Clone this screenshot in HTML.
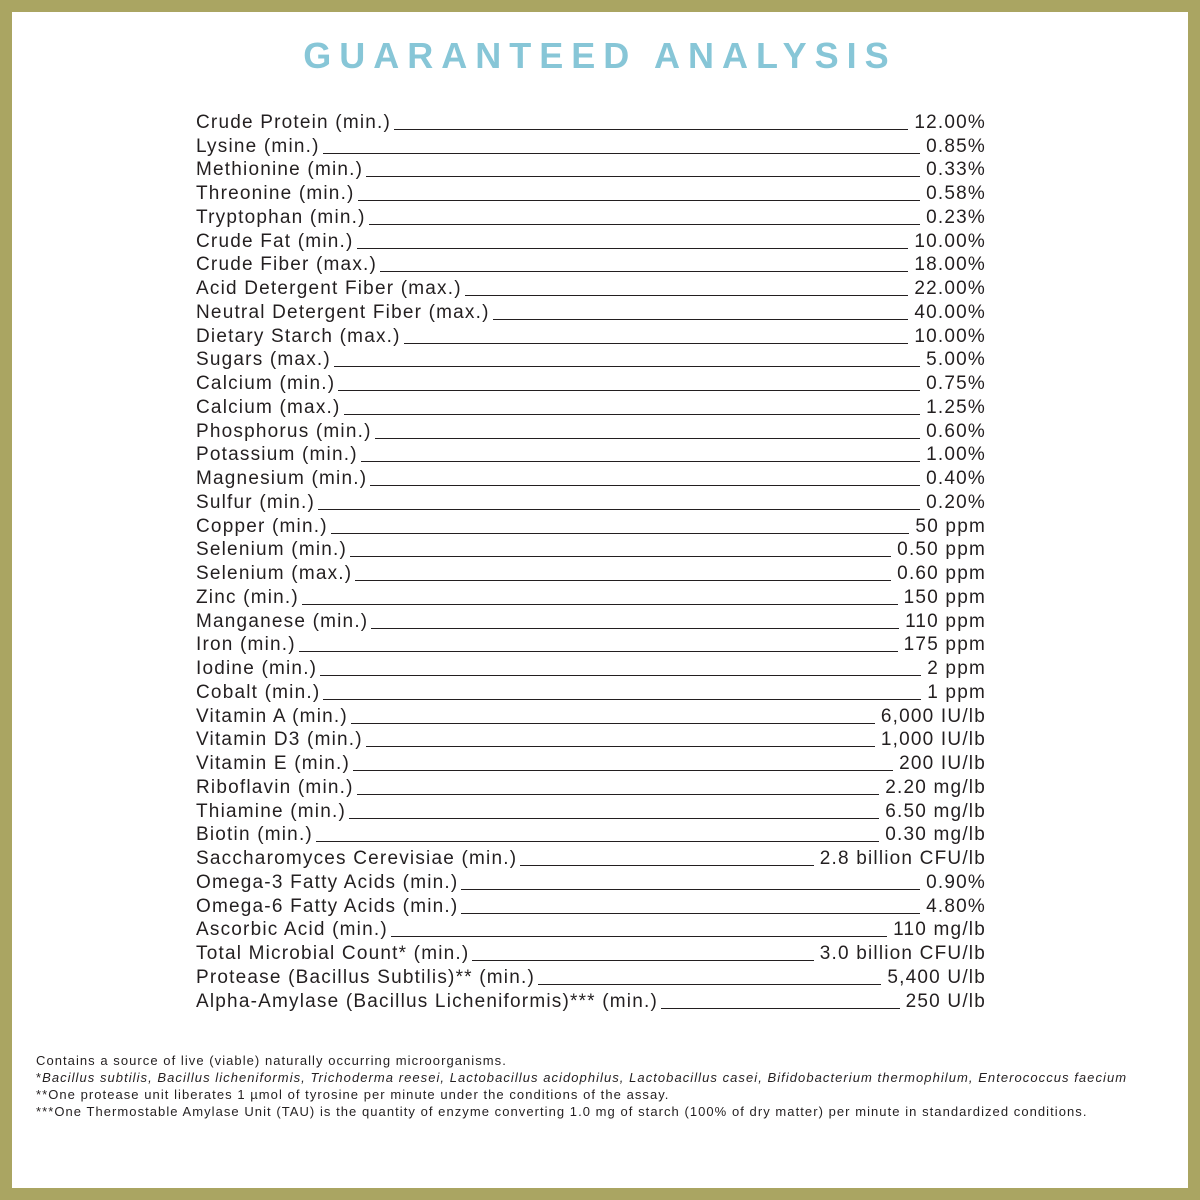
<!DOCTYPE html>
<html><head><meta charset="utf-8"><style>
html,body{margin:0;padding:0}
body{width:1200px;height:1200px;background:#aaa562;position:relative;overflow:hidden;font-family:"Liberation Sans",sans-serif;color:#231f20}
.card{position:absolute;left:12px;top:12px;width:1176px;height:1176px;background:#fff}
.title{position:absolute;left:0;width:1200px;top:35px;text-align:center;font-weight:bold;font-size:36px;letter-spacing:8px;color:#87c6d7}
.rows{position:absolute;left:196px;top:111px;width:790px}
.r{display:flex;height:23.76px;line-height:23.76px;font-size:19px;letter-spacing:1.2px;align-items:flex-end}
.r span.l{white-space:nowrap}
.r i{flex:1;border-bottom:1.5px solid #231f20;margin:0 6px 5px 3px;height:0}
.r span.v{white-space:nowrap}
.fn{position:absolute;left:36px;top:1052px;font-size:13px;letter-spacing:1.05px;line-height:17px;color:#231f20;white-space:nowrap}
</style></head><body>
<div class="card"></div>
<div class="title">GUARANTEED ANALYSIS</div>
<div class="rows">
<div class="r"><span class="l">Crude Protein (min.)</span><i></i><span class="v">12.00%</span></div>
<div class="r"><span class="l">Lysine (min.)</span><i></i><span class="v">0.85%</span></div>
<div class="r"><span class="l">Methionine (min.)</span><i></i><span class="v">0.33%</span></div>
<div class="r"><span class="l">Threonine (min.)</span><i></i><span class="v">0.58%</span></div>
<div class="r"><span class="l">Tryptophan (min.)</span><i></i><span class="v">0.23%</span></div>
<div class="r"><span class="l">Crude Fat (min.)</span><i></i><span class="v">10.00%</span></div>
<div class="r"><span class="l">Crude Fiber (max.)</span><i></i><span class="v">18.00%</span></div>
<div class="r"><span class="l">Acid Detergent Fiber (max.)</span><i></i><span class="v">22.00%</span></div>
<div class="r"><span class="l">Neutral Detergent Fiber (max.)</span><i></i><span class="v">40.00%</span></div>
<div class="r"><span class="l">Dietary Starch (max.)</span><i></i><span class="v">10.00%</span></div>
<div class="r"><span class="l">Sugars (max.)</span><i></i><span class="v">5.00%</span></div>
<div class="r"><span class="l">Calcium (min.)</span><i></i><span class="v">0.75%</span></div>
<div class="r"><span class="l">Calcium (max.)</span><i></i><span class="v">1.25%</span></div>
<div class="r"><span class="l">Phosphorus (min.)</span><i></i><span class="v">0.60%</span></div>
<div class="r"><span class="l">Potassium (min.)</span><i></i><span class="v">1.00%</span></div>
<div class="r"><span class="l">Magnesium (min.)</span><i></i><span class="v">0.40%</span></div>
<div class="r"><span class="l">Sulfur (min.)</span><i></i><span class="v">0.20%</span></div>
<div class="r"><span class="l">Copper (min.)</span><i></i><span class="v">50 ppm</span></div>
<div class="r"><span class="l">Selenium (min.)</span><i></i><span class="v">0.50 ppm</span></div>
<div class="r"><span class="l">Selenium (max.)</span><i></i><span class="v">0.60 ppm</span></div>
<div class="r"><span class="l">Zinc (min.)</span><i></i><span class="v">150 ppm</span></div>
<div class="r"><span class="l">Manganese (min.)</span><i></i><span class="v">110 ppm</span></div>
<div class="r"><span class="l">Iron (min.)</span><i></i><span class="v">175 ppm</span></div>
<div class="r"><span class="l">Iodine (min.)</span><i></i><span class="v">2 ppm</span></div>
<div class="r"><span class="l">Cobalt (min.)</span><i></i><span class="v">1 ppm</span></div>
<div class="r"><span class="l">Vitamin A (min.)</span><i></i><span class="v">6,000 IU/lb</span></div>
<div class="r"><span class="l">Vitamin D3 (min.)</span><i></i><span class="v">1,000 IU/lb</span></div>
<div class="r"><span class="l">Vitamin E (min.)</span><i></i><span class="v">200 IU/lb</span></div>
<div class="r"><span class="l">Riboflavin (min.)</span><i></i><span class="v">2.20 mg/lb</span></div>
<div class="r"><span class="l">Thiamine (min.)</span><i></i><span class="v">6.50 mg/lb</span></div>
<div class="r"><span class="l">Biotin (min.)</span><i></i><span class="v">0.30 mg/lb</span></div>
<div class="r"><span class="l">Saccharomyces Cerevisiae (min.)</span><i></i><span class="v">2.8 billion CFU/lb</span></div>
<div class="r"><span class="l">Omega-3 Fatty Acids (min.)</span><i></i><span class="v">0.90%</span></div>
<div class="r"><span class="l">Omega-6 Fatty Acids (min.)</span><i></i><span class="v">4.80%</span></div>
<div class="r"><span class="l">Ascorbic Acid (min.)</span><i></i><span class="v">110 mg/lb</span></div>
<div class="r"><span class="l">Total Microbial Count* (min.)</span><i></i><span class="v">3.0 billion CFU/lb</span></div>
<div class="r"><span class="l">Protease (Bacillus Subtilis)** (min.)</span><i></i><span class="v">5,400 U/lb</span></div>
<div class="r"><span class="l">Alpha-Amylase (Bacillus Licheniformis)*** (min.)</span><i></i><span class="v">250 U/lb</span></div>
</div>
<div class="fn">
Contains a source of live (viable) naturally occurring microorganisms.<br>
*<i>Bacillus subtilis, Bacillus licheniformis, Trichoderma reesei, Lactobacillus acidophilus, Lactobacillus casei, Bifidobacterium thermophilum, Enterococcus faecium</i><br>
**One protease unit liberates 1 µmol of tyrosine per minute under the conditions of the assay.<br>
***One Thermostable Amylase Unit (TAU) is the quantity of enzyme converting 1.0 mg of starch (100% of dry matter) per minute in standardized conditions.
</div>
</body></html>
